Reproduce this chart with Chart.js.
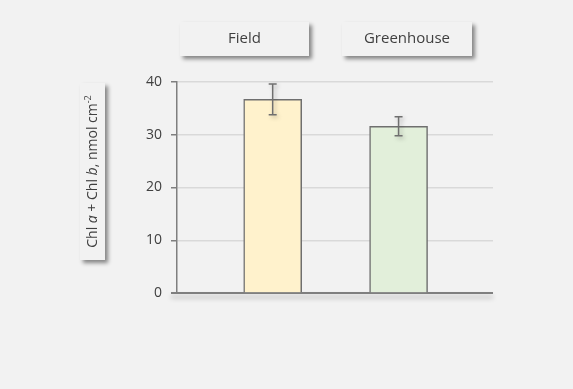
<!DOCTYPE html>
<html>
<head>
<meta charset="utf-8">
<script src="https://cdn.jsdelivr.net/npm/chart.js@4/dist/chart.umd.min.js"></script>
<style>
  html, body { margin: 0; padding: 0; background: #f2f2f2; }
  #wrap { width: 573px; height: 389px; position: relative; }
</style>
</head>
<body>
<div id="wrap"><canvas id="chart" width="573" height="389"></canvas></div>
<script>
// Chlorophyll a+b content per growing condition
const categories = ['Field', 'Greenhouse'];
const chlMeans = [36.7, 31.6];
const chlErrors = [2.9, 1.8];
const yTicks = [0, 10, 20, 30, 40];

const barFills = ['#fff2cc', '#e2efda'];
const ink = '#404040';
const axisGrey = '#7f7f7f';
const fontFamily = "'Open Sans', 'Noto Sans', sans-serif";

// Boxed headers above the plot
const headerPlugin = {
  id: 'headers',
  afterDraw(chart) {
    const ctx = chart.ctx;
    const boxes = [
      { left: 180, top: 22, w: 129, h: 34 },
      { left: 342, top: 22, w: 130, h: 34 }
    ];
    categories.forEach((name, i) => {
      const b = boxes[i];
      ctx.save();
      ctx.shadowColor = 'rgba(0,0,0,0.45)';
      ctx.shadowBlur = 4;
      ctx.shadowOffsetX = 3;
      ctx.shadowOffsetY = 3;
      ctx.fillStyle = '#f2f2f2';
      ctx.fillRect(b.left, b.top, b.w, b.h);
      ctx.restore();
      ctx.save();
      ctx.fillStyle = ink;
      ctx.font = '15px ' + fontFamily;
      ctx.textAlign = 'center';
      ctx.textBaseline = 'middle';
      ctx.fillText(name, b.left + b.w / 2, b.top + b.h / 2);
      ctx.restore();
    });
  }
};

// Boxed, rotated y-axis title with italic a/b and superscript
const yTitlePlugin = {
  id: 'yTitle',
  afterDraw(chart) {
    const ctx = chart.ctx;
    const box = { left: 80, top: 83, w: 25, h: 177 };
    ctx.save();
    ctx.shadowColor = 'rgba(0,0,0,0.45)';
    ctx.shadowBlur = 4;
    ctx.shadowOffsetX = 3;
    ctx.shadowOffsetY = 3;
    ctx.fillStyle = '#f2f2f2';
    ctx.fillRect(box.left, box.top, box.w, box.h);
    ctx.restore();

    const normal = '14px ' + fontFamily;
    const italic = 'italic 14px ' + fontFamily;
    const sup = '9px ' + fontFamily;
    const parts = [
      { t: 'Chl ', f: normal, dy: 0 },
      { t: 'a', f: italic, dy: 0 },
      { t: ' + Chl ', f: normal, dy: 0 },
      { t: 'b', f: italic, dy: 0 },
      { t: ', nmol cm', f: normal, dy: 0 },
      { t: '-2', f: sup, dy: -5 }
    ];
    ctx.save();
    ctx.translate(box.left + box.w / 2 + 1, box.top + box.h / 2);
    ctx.rotate(-Math.PI / 2);
    ctx.fillStyle = ink;
    ctx.textBaseline = 'middle';
    ctx.textAlign = 'left';
    let total = 0;
    parts.forEach(p => { ctx.font = p.f; p.w = ctx.measureText(p.t).width; total += p.w; });
    let x = -total / 2;
    parts.forEach(p => {
      ctx.font = p.f;
      ctx.fillText(p.t, x, p.dy);
      x += p.w;
    });
    ctx.restore();
  }
};

// Category baseline with a soft shadow
const baselinePlugin = {
  id: 'baseline',
  beforeDatasetsDraw(chart) {
    const ctx = chart.ctx;
    const area = chart.chartArea;
    const y = chart.scales.y.getPixelForValue(0);
    ctx.save();
    ctx.strokeStyle = axisGrey;
    ctx.lineWidth = 2;
    ctx.shadowColor = 'rgba(0,0,0,0.28)';
    ctx.shadowBlur = 5;
    ctx.shadowOffsetY = 4;
    ctx.beginPath();
    ctx.moveTo(area.left - 6, y);
    ctx.lineTo(area.right, y);
    ctx.stroke();
    ctx.restore();
  }
};

// Error bars (mean ± error)
const errorBarPlugin = {
  id: 'errorBars',
  afterDatasetsDraw(chart) {
    const ctx = chart.ctx;
    const xs = chart.scales.x, ys = chart.scales.y;
    ctx.save();
    ctx.strokeStyle = '#6f6f6f';
    ctx.lineWidth = 1.5;
    ctx.shadowColor = 'rgba(0,0,0,0.25)';
    ctx.shadowBlur = 4;
    ctx.shadowOffsetX = 2;
    ctx.shadowOffsetY = 2;
    chlMeans.forEach((m, i) => {
      const x = xs.getPixelForValue(i + 1);
      const yt = ys.getPixelForValue(m + chlErrors[i]);
      const yb = ys.getPixelForValue(m - chlErrors[i]);
      const cap = 4;
      ctx.beginPath();
      ctx.moveTo(x, yt); ctx.lineTo(x, yb);
      ctx.moveTo(x - cap, yt); ctx.lineTo(x + cap, yt);
      ctx.moveTo(x - cap, yb); ctx.lineTo(x + cap, yb);
      ctx.stroke();
    });
    ctx.restore();
  }
};

Chart.defaults.font.family = fontFamily;

new Chart(document.getElementById('chart'), {
  type: 'bar',
  data: {
    datasets: [{
      data: categories.map((c, i) => ({ x: i + 1, y: chlMeans[i] })),
      backgroundColor: barFills,
      borderColor: '#6f6f6f',
      borderWidth: 1.5,
      barThickness: 58
    }]
  },
  options: {
    responsive: false,
    animation: false,
    events: [],
    layout: { padding: { left: 0, right: 80, top: 82, bottom: 96 } },
    plugins: { legend: { display: false }, tooltip: { enabled: false } },
    scales: {
      x: { type: 'linear', min: 0.24, max: 2.75, offset: false, display: false },
      y: {
        min: yTicks[0],
        max: yTicks[yTicks.length - 1],
        afterBuildTicks(scale) { scale.ticks = yTicks.map(v => ({ value: v })); },
        afterFit(scale) { scale.width = 177; },
        ticks: { color: ink, font: { size: 14 }, padding: 9 },
        grid: { color: '#d9d9d9', lineWidth: 1.5, tickColor: axisGrey, tickLength: 6, drawTicks: true },
        border: { color: axisGrey, width: 1.5 }
      }
    }
  },
  plugins: [baselinePlugin, errorBarPlugin, headerPlugin, yTitlePlugin]
});
</script>
</body>
</html>
